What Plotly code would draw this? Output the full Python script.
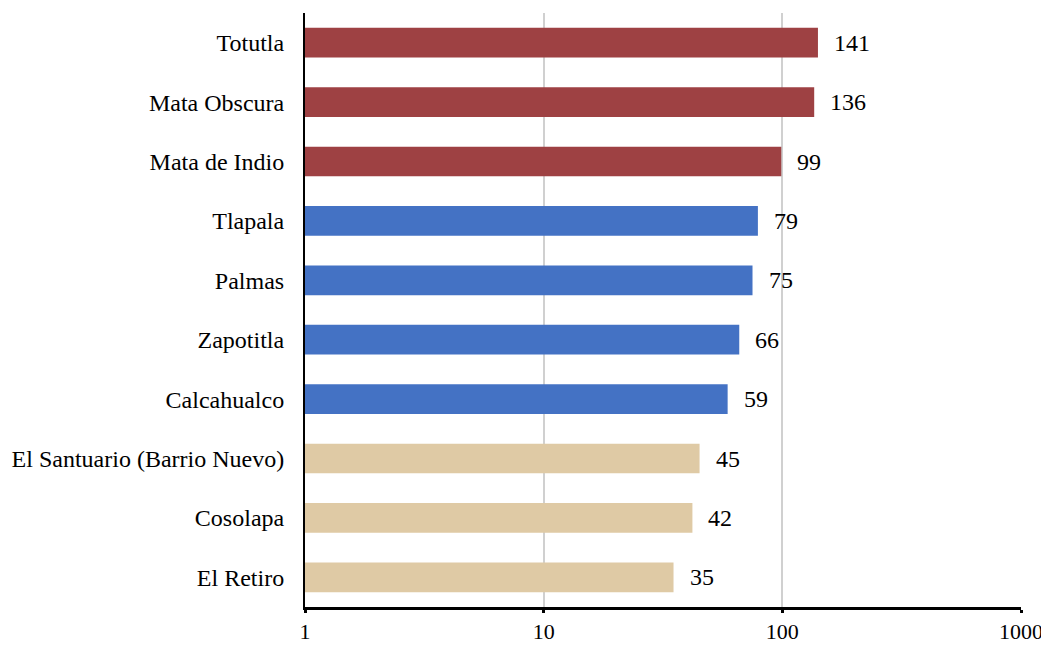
import math
import plotly.graph_objects as go

categories = ["El Retiro", "Cosolapa", "El Santuario (Barrio Nuevo)", "Calcahualco", "Zapotitla",
              "Palmas", "Tlapala", "Mata de Indio", "Mata Obscura", "Totutla"]
values = [35, 42, 45, 59, 66, 75, 79, 99, 136, 141]
groups = ["low", "low", "low", "mid", "mid", "mid", "mid", "high", "high", "high"]
group_colors = {"low": "#DFCAA5", "mid": "#4472C4", "high": "#9E4143"}
tick_vals = [1, 10, 100, 1000]
tick_text = ["1", "10", "100", "1000"]

FONT = "Liberation Serif"

fig = go.Figure()
fig.add_trace(go.Bar(
    y=categories, x=values, orientation="h",
    marker=dict(color=[group_colors[g] for g in groups], line=dict(width=0)),
    width=0.5,
))
for c, v in zip(categories, values):
    fig.add_annotation(x=math.log10(v), y=c, text=str(v), showarrow=False,
                       xanchor="left", xshift=14, font=dict(family=FONT, size=24, color="#000"))

fig.update_layout(
    width=1041, height=637,
    margin=dict(l=297, r=28, t=5, b=38, autoexpand=False),
    plot_bgcolor="white", paper_bgcolor="white",
    showlegend=False,
    font=dict(family=FONT, size=24, color="#000"),
)
fig.update_xaxes(type="log", range=[0, 3], tickvals=tick_vals, ticktext=tick_text,
                 showgrid=True, gridcolor="#D0D0D0", gridwidth=2,
                 showline=True, linecolor="#000", linewidth=2.5,
                 ticks="outside", ticklen=3, tickwidth=2.5, tickcolor="#000",
                 zeroline=False, tickfont=dict(family=FONT, size=22))
fig.update_yaxes(showline=True, linecolor="#000", linewidth=2, ticks="", showgrid=False,
                 ticklabelstandoff=14, tickfont=dict(family=FONT, size=24))

fig.write_html("out.html")
